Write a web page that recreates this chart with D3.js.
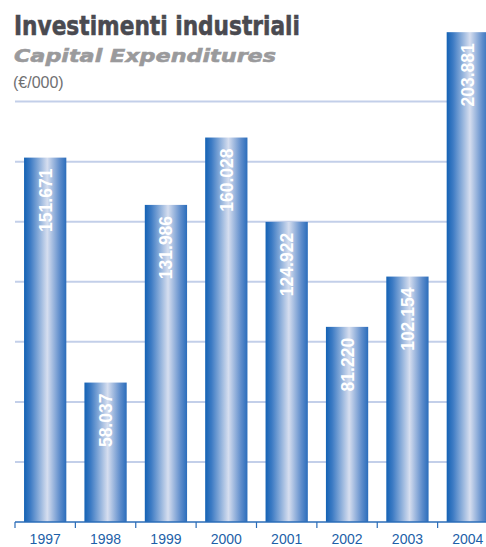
<!DOCTYPE html>
<html>
<head>
<meta charset="utf-8">
<script src="https://cdn.jsdelivr.net/npm/d3@7"></script>
<style>
  body { margin: 0; background: #fff; }
  svg { display: block; }
</style>
</head>
<body>
<div id="canvas"></div>
<script>
// dati del grafico (€/000)
const years = ["1997", "1998", "1999", "2000", "2001", "2002", "2003", "2004"];
const values = [151671, 58037, 131986, 160028, 124922, 81220, 102154, 203881];
const gridTicks = [25000, 50000, 75000, 100000, 125000, 150000, 175000];

const data = years.map((y, i) => ({ year: y, value: values[i] }));

const width = 486;
const height = 547;

const svg = d3.select("#canvas")
  .append("svg")
  .attr("width", width)
  .attr("height", height);

// gradiente delle barre
const grad = svg.append("defs")
  .append("linearGradient")
  .attr("id", "barGrad")
  .attr("x1", "0%").attr("x2", "100%")
  .attr("y1", "0%").attr("y2", "0%");
grad.append("stop").attr("offset", "0%").attr("stop-color", "#1462b4");
grad.append("stop").attr("offset", "15%").attr("stop-color", "#3d7bc4");
grad.append("stop").attr("offset", "55%").attr("stop-color", "#d6deef");
grad.append("stop").attr("offset", "85%").attr("stop-color", "#5d8ccb");
grad.append("stop").attr("offset", "100%").attr("stop-color", "#2b6dbb");

// scale
const x = d3.scaleBand()
  .domain(years)
  .range([15, 498])
  .paddingInner(0.3)
  .paddingOuter(0.15);

const y = d3.scaleLinear()
  .domain([0, 200000])
  .range([522, 41.5]);

// titoli (font allargato con scala verticale)
svg.append("text")
  .attr("transform", "translate(14,35) scale(1,1.2)")
  .attr("textLength", 286)
  .attr("lengthAdjust", "spacingAndGlyphs")
  .style("font-family", "'DejaVu Sans', sans-serif")
  .style("font-weight", "bold")
  .style("font-size", "22px")
  .style("fill", "#4a4a50")
  .style("stroke", "#4a4a50")
  .style("stroke-width", 0.5)
  .text("Investimenti industriali");

svg.append("text")
  .attr("transform", "translate(14,62) scale(1,1.1)")
  .attr("textLength", 262)
  .attr("lengthAdjust", "spacingAndGlyphs")
  .style("font-family", "'DejaVu Sans', sans-serif")
  .style("font-weight", "bold")
  .style("font-style", "italic")
  .style("font-size", "16px")
  .style("fill", "#9a9a9c")
  .style("stroke", "#9a9a9c")
  .style("stroke-width", 0.5)
  .text("Capital Expenditures");

svg.append("text")
  .attr("x", 13)
  .attr("y", 88)
  .style("font-family", "'Liberation Sans', Arial, sans-serif")
  .style("font-size", "16px")
  .style("fill", "#707072")
  .text("(€/000)");

// griglia
svg.append("g")
  .selectAll("line")
  .data(gridTicks)
  .enter()
  .append("line")
  .attr("x1", 15)
  .attr("x2", width)
  .attr("y1", d => y(d))
  .attr("y2", d => y(d))
  .style("stroke", "#c3cfe9")
  .style("stroke-width", 2);

// barre
svg.selectAll(".bar")
  .data(data)
  .enter()
  .append("rect")
  .attr("class", "bar")
  .attr("x", d => x(d.year))
  .attr("y", d => y(d.value))
  .attr("width", x.bandwidth())
  .attr("height", d => y(0) - y(d.value))
  .style("fill", "url(#barGrad)");

// etichette valori
const fmt = d3.formatLocale({ decimal: ",", thousands: ".", grouping: [3], currency: ["€", ""] }).format(",");

svg.selectAll(".label")
  .data(data)
  .enter()
  .append("text")
  .attr("class", "label")
  .attr("transform", d => `translate(${x(d.year) + x.bandwidth() / 2 + 6.5},${y(d.value) + 11}) rotate(-90)`)
  .style("text-anchor", "end")
  .style("font-family", "'Liberation Sans', Arial, sans-serif")
  .style("font-weight", "bold")
  .style("font-size", "17.5px")
  .style("fill", "#ffffff")
  .text(d => fmt(d.value));

// asse x
const axis = svg.append("g")
  .attr("transform", `translate(0,${y(0)})`);

axis.append("line")
  .attr("x1", 15)
  .attr("x2", width)
  .style("stroke", "#2a6cb8")
  .style("stroke-width", 1.5);

axis.selectAll(".tick")
  .data(years)
  .enter()
  .append("line")
  .attr("class", "tick")
  .attr("x1", (d, i) => 15 + i * x.step())
  .attr("x2", (d, i) => 15 + i * x.step())
  .attr("y1", 0)
  .attr("y2", 6)
  .style("stroke", "#2a6cb8")
  .style("stroke-width", 1.2);

axis.selectAll(".year")
  .data(years)
  .enter()
  .append("text")
  .attr("class", "year")
  .attr("x", d => x(d) + x.bandwidth() / 2)
  .attr("y", 22)
  .style("text-anchor", "middle")
  .style("font-family", "'Liberation Sans', Arial, sans-serif")
  .style("font-size", "14px")
  .style("fill", "#1d5fa8")
  .text(d => d);
</script>
</body>
</html>
